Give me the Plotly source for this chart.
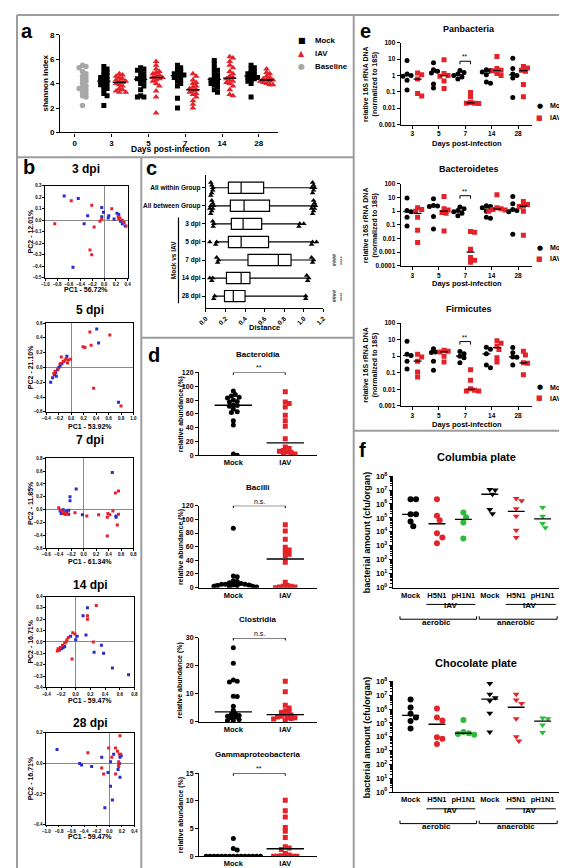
import numpy as np
import plotly.graph_objects as go

W, H = 567, 868
FONT = "Liberation Sans"
GLYPH = "DejaVu Sans"
RED = "#e32229"
GREEN = "#2dbb3a"
BLUE = "#2a2ad2"
GRAY = "#a8a8a8"
BORDER = "#9c9c9c"

# ===================== DATA =====================
# (a) Shannon index
a_days = ["0", "3", "5", "7", "14", "28"]
a_baseline = [5.5, 5.4, 5.3, 5.0, 4.8, 4.6, 4.5, 4.3, 4.2, 4.0, 3.8, 3.7, 3.6, 3.5, 3.3, 3.2, 3.0, 2.9, 2.2]
a_mock = [
    [5.4, 5.2, 5.0, 4.9, 4.7, 4.6, 4.5, 4.4, 4.3, 4.2, 4.1, 4.0, 3.9, 3.8, 3.6, 3.5, 3.2, 3.0, 2.2],
    [5.3, 5.2, 5.1, 5.0, 4.8, 4.6, 4.5, 4.4, 4.3, 4.2, 4.0, 3.8, 3.5, 3.0, 2.9, 2.9],
    [5.5, 5.3, 5.2, 5.0, 4.9, 4.8, 4.7, 4.7, 4.6, 4.5, 4.4, 4.2, 4.0, 3.8, 2.8, 2.0],
    [5.9, 5.6, 5.3, 5.1, 4.9, 4.7, 4.5, 4.4, 4.3, 4.2, 4.1, 4.0, 3.9, 3.7, 3.5, 3.3],
    [5.5, 5.3, 5.2, 5.0, 4.9, 4.8, 4.7, 4.6, 4.5, 4.5, 4.4, 4.3, 4.2, 4.0, 2.9],
]
a_iav = [
    [4.8, 4.7, 4.6, 4.5, 4.4, 4.3, 4.2, 4.2, 4.1, 4.0, 3.9, 3.8, 3.6, 3.5, 3.4, 3.3, 3.3],
    [5.8, 5.5, 5.2, 5.0, 4.9, 4.8, 4.7, 4.6, 4.5, 4.5, 4.4, 4.3, 4.2, 4.0, 3.8, 3.4, 2.9, 1.6],
    [4.8, 4.6, 4.3, 4.1, 4.0, 3.8, 3.7, 3.6, 3.5, 3.4, 3.3, 3.2, 3.1, 2.9, 2.6, 2.3, 2.0],
    [6.2, 6.1, 5.8, 5.5, 5.3, 5.0, 4.8, 4.6, 4.5, 4.4, 4.3, 4.2, 4.1, 4.0, 3.8, 3.5, 3.1, 3.0],
    [5.2, 4.9, 4.8, 4.6, 4.5, 4.4, 4.3, 4.3, 4.2, 4.2, 4.1, 4.0, 3.9, 3.9],
]
a_legend = ["Mock", "IAV", "Baseline"]

# (b) PCA (PC1, PC2) — blue = Mock, red = IAV
b_titles = ["3 dpi", "5 dpi", "7 dpi", "14 dpi", "28 dpi"]
b_pc1_label = ["PC1 - 56.72%", "PC1 - 53.92%", "PC1 - 61.34%", "PC1 - 59.47%", "PC1 - 59.47%"]
b_pc2_label = ["PC2 - 12.01%", "PC2 - 21.10%", "PC2 - 11.85%", "PC2 - 16.71%", "PC2 - 16.71%"]
b3_blue = [(-0.68, 0.21), (-0.44, 0.19), (-0.28, 0.04), (-0.34, -0.03), (-0.04, 0.11), (-0.01, 0.07), (-0.04, 0.03),
           (0.08, 0.04), (0.07, 0.02), (0.17, 0.01), (0.22, 0.06), (0.28, -0.01), (0.36, -0.05), (0.31, -0.03),
           (0.25, 0.05), (-0.53, -0.41)]
b3_red = [(-0.56, 0.17), (-0.84, -0.03), (-0.21, 0.13), (-0.17, -0.06), (-0.07, -0.01), (-0.04, 0.01), (0.13, 0.10),
          (0.25, 0.01), (0.27, 0.02), (0.31, 0.0), (0.34, -0.02), (0.38, -0.05), (-0.24, -0.26), (-0.21, -0.30),
          (0.24, 0.03)]
b5_blue = [(0.41, 0.52), (0.44, 0.33), (-0.07, 0.15), (0.76, -0.47), (-0.15, 0.05), (-0.20, 0.0), (-0.22, -0.03),
           (-0.25, -0.07), (-0.27, -0.10), (-0.30, -0.14), (-0.33, -0.20), (-0.18, 0.02), (-0.12, 0.08), (-0.24, -0.12)]
b5_red = [(0.30, 0.48), (0.62, 0.44), (0.32, 0.30), (0.19, 0.28), (0.22, 0.27), (-0.01, 0.11), (0.36, -0.28),
          (0.80, -0.52), (-0.10, 0.10), (-0.08, 0.12), (-0.05, 0.10), (-0.13, 0.08), (-0.18, 0.05), (-0.21, -0.02),
          (-0.26, -0.05), (-0.28, -0.08), (-0.16, 0.14), (-0.06, 0.06)]
b7_blue = [(0.46, 0.58), (-0.12, 0.32), (-0.22, 0.20), (-0.22, 0.14), (0.52, -0.10), (0.52, -0.12), (-0.02, -0.08),
           (-0.24, -0.01), (-0.24, -0.07), (-0.38, -0.02), (-0.35, -0.03), (-0.33, 0.0), (-0.31, -0.05),
           (-0.30, -0.07), (-0.28, -0.02), (-0.36, -0.06), (-0.27, -0.04)]
b7_red = [(0.51, 0.26), (0.56, 0.29), (0.47, -0.02), (0.39, -0.06), (0.42, -0.08), (0.38, -0.12), (0.56, -0.07),
          (0.54, -0.24), (0.38, -0.41), (0.24, -0.08), (0.05, -0.10), (-0.14, -0.05), (-0.40, 0.03), (-0.34, -0.03),
          (-0.32, -0.06), (-0.29, -0.05), (-0.37, -0.01), (-0.26, -0.07)]
b14_blue = [(0.16, 0.30), (0.10, 0.23), (0.02, 0.05), (-0.07, 0.05), (0.0, 0.02), (0.14, 0.06), (0.35, -0.03),
            (0.38, -0.10), (0.25, -0.09), (0.50, -0.23), (0.72, -0.29), (-0.20, -0.06), (-0.17, -0.05),
            (-0.22, -0.07), (-0.15, -0.04), (-0.19, -0.055)]
b14_red = [(0.28, 0.32), (0.16, 0.23), (0.16, 0.20), (-0.04, 0.08), (-0.01, 0.07), (0.24, 0.0), (-0.05, -0.15),
           (-0.12, 0.02), (-0.10, 0.04), (-0.25, -0.08), (-0.23, -0.07), (-0.21, -0.05), (-0.18, -0.03),
           (-0.15, -0.01), (-0.24, -0.06), (-0.13, 0.0)]
b28_blue = [(-0.83, 0.09), (-0.47, 0.0), (-0.44, -0.01), (-0.28, -0.02), (-0.12, 0.04), (0.07, 0.06), (0.19, 0.05),
            (0.17, 0.04), (0.16, 0.0), (0.14, -0.04), (0.17, -0.09), (-0.02, -0.06), (0.02, -0.15), (0.05, -0.24),
            (-0.07, -0.29), (0.02, 0.01)]
b28_red = [(-0.34, 0.07), (-0.12, -0.03), (-0.09, -0.07), (-0.01, 0.10), (0.04, 0.04), (0.10, 0.10), (0.13, 0.08),
           (0.17, 0.18), (0.16, 0.06), (0.18, 0.06), (0.15, 0.01), (0.15, -0.01), (0.15, -0.02), (0.10, -0.07)]

# (c) Distance box plots
c_rows = ["All within Group", "All between Group", "3 dpi", "5 dpi", "7 dpi", "14 dpi", "28 dpi"]
c_q1 = [0.23, 0.25, 0.26, 0.23, 0.43, 0.21, 0.19]
c_med = [0.36, 0.39, 0.38, 0.36, 0.74, 0.36, 0.28]
c_q3 = [0.59, 0.65, 0.57, 0.64, 0.87, 0.45, 0.40]
c_lo = [0.08, 0.08, 0.08, 0.12, 0.13, 0.07, 0.09]
c_hi = [1.06, 1.07, 0.96, 1.08, 1.09, 1.04, 1.02]
c_out = [
    [0.05, 0.05, 0.06, 0.06, 0.07, 0.07, 1.08, 1.09, 1.09, 1.10, 1.10, 1.11],
    [0.04, 0.05, 0.05, 0.06, 0.06, 0.07, 0.07, 0.08, 1.08, 1.09, 1.09, 1.10, 1.10, 1.11, 1.11, 1.12],
    [0.07, 0.075, 0.08, 0.95, 0.96, 1.0],
    [0.04, 0.10, 0.11, 1.08, 1.09, 1.13],
    [0.11, 0.12, 0.13, 1.08, 1.09, 1.10],
    [0.04, 0.06, 0.07, 1.03, 1.04, 1.05],
    [0.08, 0.09, 1.02, 1.02],
]
c_sig1 = ["", "", "", "", "####", "", "####"]
c_sig2 = ["", "", "", "", "****", "", "****"]

# (d) relative abundance (%)
d_titles = ["Bacteroidia", "Bacilli", "Clostridia", "Gammaproteobacteria"]
d_sig = ["**", "n.s.", "n.s.", "**"]
d_mock = [
    [93, 88, 86, 84, 83, 80, 78, 77, 73, 72, 71, 67, 63, 62, 50, 44, 2, 0],
    [87, 17, 16, 10, 9, 7, 6, 5, 5, 5, 4, 4, 3, 3, 2, 2, 1, 1],
    [26.5, 21, 15, 14.5, 14.3, 9.2, 9.1, 5.6, 4.2, 3.0, 2.7, 2.3, 2.0, 1.7, 1.4, 0.8, 0.5, 0.2],
    [3.2, 1.4, 1.1, 0, 0, 0, 0, 0, 0, 0, 0, 0, 0, 0, 0, 0, 0, 0],
]
d_iav = [
    [92, 77, 75, 70, 58, 50, 42, 24, 12, 10, 7, 6, 5, 4, 2, 1],
    [92, 83, 71, 59, 55, 53, 49, 47, 37, 8, 3, 2, 2, 1, 1, 0],
    [14.5, 10.8, 6, 5, 4, 3.6, 3.4, 2.7, 2.5, 2.0, 1.8, 1.6, 1.5, 1.2, 1.0, 0.5],
    [10.1, 8.2, 7.1, 5.2, 4.5, 3.4, 1.7, 1.5, 1.2, 0.5, 0.2, 0.1, 0, 0, 0, 0],
]
d_ymax = [120, 120, 30, 15]
d_dtick = [20, 20, 10, 5]

# (e) relative 16S rRNA DNA
e_days = ["3", "5", "7", "14", "28"]
e_titles = ["Panbacteria", "Bacteroidetes", "Firmicutes"]
e_pan_mock = [[8, 1.2, 1.0, 0.9, 0.5, 0.13], [6, 2.2, 1.8, 1.4, 0.3, 0.17], [2, 1.5, 1.2, 1.0, 0.8, 0.6],
              [2.2, 2.0, 1.6, 1.1, 0.4, 0.33], [11, 2.6, 1.2, 1.0, 0.7, 0.045]]
e_pan_iav = [[1.4, 1.1, 0.6, 0.08, 0.055], [9, 1.3, 1.0, 0.9, 0.45, 0.16], [0.09, 0.05, 0.022, 0.02, 0.02, 0.019],
             [14, 2.6, 2.1, 1.9, 1.3, 1.0], [3.5, 2.8, 2.1, 1.8, 0.28, 0.05]]
e_bac_mock = [[9, 1.1, 0.9, 0.35, 0.08], [8, 2.6, 2.4, 2.2, 0.4, 0.05], [2, 1.5, 1.1, 0.9, 0.7, 0.45],
              [2.5, 2.2, 1.8, 1.0, 0.35, 0.3], [12, 3.5, 1.3, 1.1, 0.9, 0.02]]
e_bac_iav = [[1.8, 1.3, 1.0, 0.35, 0.04, 0.005], [12, 1.5, 1.2, 0.8, 0.7, 0.035],
             [0.032, 0.028, 0.0016, 0.0004, 0.00025, 0.00018], [16, 1.8, 1.5, 1.3, 1.2, 1.0],
             [5, 3, 2.4, 2.2, 1.0, 0.017]]
e_fir_mock = [[8, 1.3, 1.1, 0.5, 0.17], [2.8, 1.8, 1.7, 0.5, 0.14], [1.9, 1.4, 1.0, 0.8, 0.4],
              [3.5, 2.6, 1.4, 0.3, 0.2], [3.3, 1.6, 0.9, 0.85, 0.3]]
e_fir_iav = [[1.3, 0.9, 0.5, 0.11, 0.055], [2.3, 2.0, 1.8, 1.0, 0.45], [0.15, 0.035, 0.011, 0.009, 0.008, 0.008],
             [8.5, 6, 4, 2.5, 0.8, 0.45], [2.0, 1.2, 0.4, 0.38, 0.075]]
e_sig_value = [7.3, 13.5, 7.6]
e_legend = ["Mock", "IAV"]

# (f) bacterial amount (cfu/organ)
f_groups = ["Mock", "H5N1", "pH1N1", "Mock", "H5N1", "pH1N1"]
f_columbia = [[2.2e6, 2.2e6, 1.8e5, 1.8e5, 5.6e4, 2.5e4], [2.2e6, 1.4e5, 6.8e4, 7.8e3, 4.0e3, 1.5e3],
              [2.4e5, 1.1e5, 4.7e4, 3.4e3], [1.1e7, 1.0e7, 5.0e6, 4.0e5, 2.0e5],
              [2.5e6, 1.7e6, 4.6e5, 1.3e5, 1.3e4, 4.0e3], [5.6e5, 1.3e5, 4.0e4, 2.0e4]]
f_chocolate = [[5e6, 1.3e6, 4.5e5, 2.5e5, 1.4e5, 4e4], [1.1e6, 2.5e5, 1.5e5, 9e3, 7e3, 3e3],
               [1.6e5, 2.2e4, 1.8e4, 1.6e4, 1.4e4], [7e7, 1.2e7, 6.5e6, 4e6, 5e5, 2.2e4],
               [1.2e7, 4.5e6, 2.5e6, 2e5, 1e4, 5e3], [2.3e5, 2.0e5, 7e4, 2e4]]

# ===================== HELPERS =====================
def X(px):
    return px / W


def Y(py):
    return 1 - py / H


def F(size, bold=True, color="black", family=FONT):
    return dict(family=family, size=size, color=color, weight="bold" if bold else "normal")


layout = dict(width=W, height=H, margin=dict(l=0, r=0, t=0, b=0), paper_bgcolor="white",
              plot_bgcolor="white", showlegend=False, hovermode=False)
annotations, shapes, traces = [], [], []
AX = dict(showline=True, linecolor="black", linewidth=1.2, ticks="outside", ticklen=3, tickwidth=1,
          tickcolor="black", showgrid=False, zeroline=False, fixedrange=True, tickfont=F(7))
n_axes = [0]


def add_axes(xpx, ypx, xkw=None, ykw=None):
    n_axes[0] += 1
    n = n_axes[0]
    s = "" if n == 1 else str(n)
    xa = dict(AX)
    xa.update(domain=[X(xpx[0]), X(xpx[1])], anchor="y" + s)
    ya = dict(AX)
    ya.update(domain=[Y(ypx[1]), Y(ypx[0])], anchor="x" + s)
    if xkw:
        xa.update(xkw)
    if ykw:
        ya.update(ykw)
    layout["xaxis" + s] = xa
    layout["yaxis" + s] = ya
    return "x" + s, "y" + s


def text(px, py, s, size, bold=True, angle=0, xanchor="center", yanchor="middle", color="black", family=FONT):
    annotations.append(dict(x=X(px), y=Y(py), xref="paper", yref="paper", text=s, showarrow=False,
                            textangle=angle, xanchor=xanchor, yanchor=yanchor,
                            font=F(size, bold, color, family)))


def swarm(vals, ppu_perp, ppu_val, diam, log=False):
    v = np.asarray(vals, float)
    v = np.log10(v) if log else v
    yp = v * ppu_val
    step = diam * 0.55
    cands = [0.0]
    for j in range(1, 80):
        cands += [j * step, -j * step]
    order = np.argsort(-yp, kind="stable")
    placed = []
    out = np.zeros(len(v))
    for i in order:
        for c in cands:
            if all((c - px) ** 2 + (yp[i] - py) ** 2 >= diam ** 2 for px, py in placed):
                break
        placed.append((c, yp[i]))
        out[i] = c / ppu_perp
    return out


def dots(xa, ya, center, vals, color, symbol, size, ppu_x, ppu_y, diam, log=False):
    offs = swarm(vals, ppu_x, ppu_y, diam, log)
    traces.append(go.Scatter(x=center + offs, y=list(vals), mode="markers", xaxis=xa, yaxis=ya,
                             marker=dict(color=color, symbol=symbol, size=size, line=dict(width=0)),
                             showlegend=False))


def median_line(xa, ya, center, vals, half, width=1.4):
    m = float(np.median(vals))
    traces.append(go.Scatter(x=[center - half, center + half], y=[m, m], mode="lines", xaxis=xa, yaxis=ya,
                             line=dict(color="black", width=width), showlegend=False))


def bracket(xa, ya, x0, x1, yv, ylow, label, size, log=False):
    traces.append(go.Scatter(x=[x0, x0, x1, x1], y=[ylow, yv, yv, ylow], mode="lines", xaxis=xa, yaxis=ya,
                             line=dict(color="black", width=1), showlegend=False))
    annotations.append(dict(x=(x0 + x1) / 2, y=np.log10(yv) if log else yv, xref=xa, yref=ya, text=label,
                            showarrow=False, yanchor="bottom", font=F(size, False), yshift=-1))


def legend_block(px, py_list, glyphs, colors, labels, size, gsize, gap):
    for py, g, c, lab in zip(py_list, glyphs, colors, labels):
        text(px, py, g, gsize, bold=False, color=c, family=GLYPH)
        text(px + gap, py, lab, size, xanchor="left")


# ===================== PANEL BORDERS =====================
for (x0, y0, x1, y1) in [(1, 1, 566, 1), (1, 866, 566, 866), (1, 1, 1, 866), (566, 1, 566, 866),
                         (345, 1, 345, 866), (1, 145, 345, 145), (128, 145, 128, 866),
                         (128, 328, 345, 328), (345, 422, 566, 422)]:
    shapes.append(dict(type="line", xref="paper", yref="paper", x0=X(x0), y0=Y(y0), x1=X(x1), y1=Y(y1),
                       line=dict(color=BORDER, width=2)))

for (lx, ly, lt) in [(11, 17, "a"), (13, 155, "b"), (138, 156, "c"), (141, 345, "d"), (357, 17, "e"),
                     (354, 442, "f")]:
    text(lx, ly, lt, 20)

# ===================== PANEL A =====================
xa, ya = add_axes((45, 268), (21, 120),
                  dict(range=[-0.4, 5.53], tickvals=list(range(6)), ticktext=a_days, tickfont=F(8)),
                  dict(range=[0, 8], tickvals=[0, 2, 4, 6, 8], tickfont=F(8)))
PPX_A, PPY_A = 37.6, 12.4
dots(xa, ya, 0.21, a_baseline, GRAY, "circle", 5.5, PPX_A, PPY_A, 3.2)
for i in range(5):
    dots(xa, ya, i + 1 - 0.21, a_mock[i], "black", "square", 5, PPX_A, PPY_A, 3.0)
    median_line(xa, ya, i + 1 - 0.21, a_mock[i], 0.18)
    dots(xa, ya, i + 1 + 0.21, a_iav[i], RED, "triangle-up", 6, PPX_A, PPY_A, 3.0)
    median_line(xa, ya, i + 1 + 0.21, a_iav[i], 0.18)
legend_block(292, [27, 40, 53], ["■", "▲", "●"], ["black", RED, GRAY], a_legend, 7.8, 8, 11)
text(30, 70, "shannon index", 8, angle=-90)
text(158, 137, "Days post-infection", 8.5)

# ===================== PANEL B =====================
b_sets = [(b3_blue, b3_red), (b5_blue, b5_red), (b7_blue, b7_red), (b14_blue, b14_red), (b28_blue, b28_red)]
b_xrange = [[-1.0, 0.4], [-0.4, 1.0], [-0.6, 0.8], [-0.4, 0.8], [-1.0, 0.4]]
b_yrange = [[-0.5, 0.3], [-0.6, 0.6], [-0.6, 0.8], [-0.4, 0.4], [-0.4, 0.2]]
b_ydtick = [0.1, 0.2, 0.2, 0.1, 0.2]
b_box_y = [(174, 267), (313, 403), (450, 541), (590, 682), (728, 821)]
b_box_x = [(30, 114), (31, 120), (31, 120), (31, 121), (31, 121)]
b_title_y = [157, 300, 431, 578, 718]
b_pc1_y = [279, 418, 555, 695, 833]
for k in range(5):
    xa, ya = add_axes(b_box_x[k], b_box_y[k],
                      dict(range=b_xrange[k], dtick=0.2, tick0=0, tickformat=".1f", mirror=True, linewidth=0.8,
                           ticklen=2, tickfont=F(4.5), zeroline=True, zerolinecolor="#8a8a8a",
                           zerolinewidth=1),
                      dict(range=b_yrange[k], dtick=b_ydtick[k], tick0=0, tickformat=".1f", mirror=True,
                           linewidth=0.8, ticklen=2, tickfont=F(4.5), zeroline=True, zerolinecolor="#8a8a8a",
                           zerolinewidth=1))
    blue, red = b_sets[k]
    for pts, col in [(blue, BLUE), (red, RED)]:
        traces.append(go.Scatter(x=[p[0] for p in pts], y=[p[1] for p in pts], mode="markers", xaxis=xa,
                                 yaxis=ya, marker=dict(color=col, symbol="square", size=3, line=dict(width=0)),
                                 showlegend=False))
    cx = (b_box_x[k][0] + b_box_x[k][1]) / 2
    text(cx, b_title_y[k], b_titles[k], 12)
    text(cx, b_pc1_y[k], b_pc1_label[k], 7)
    text(15, (b_box_y[k][0] + b_box_y[k][1]) / 2, b_pc2_label[k], 7, angle=-90)

# ===================== PANEL C =====================
xa, ya = add_axes((194, 314), (163, 298),
                  dict(range=[0, 1.2], dtick=0.2, tick0=0, tickformat=".1f", tickangle=-45, tickfont=F(6.5)),
                  dict(range=[6.67, -0.71], tickvals=list(range(7)), ticktext=c_rows, tickfont=F(6.5)))
traces.append(go.Box(y=list(range(7)), q1=c_q1, median=c_med, q3=c_q3, lowerfence=c_lo, upperfence=c_hi,
                     orientation="h", fillcolor="white", line=dict(color="black", width=1.2), whiskerwidth=0,
                     width=0.62, boxpoints=False, xaxis=xa, yaxis=ya, showlegend=False))
for r in range(7):
    offs = swarm(c_out[r], 18.3, 100, 2.4)
    traces.append(go.Scatter(x=c_out[r], y=r + offs, mode="markers", xaxis=xa, yaxis=ya,
                             marker=dict(color="black", symbol="triangle-up", size=5, line=dict(width=0)),
                             showlegend=False))
    for s, px in [(c_sig1[r], 325), (c_sig2[r], 333)]:
        if s:
            annotations.append(dict(x=X(px), y=r, xref="paper", yref=ya, text=s, showarrow=False,
                                    textangle=-90, font=F(5.5, False)))
shapes.append(dict(type="line", xref="paper", yref=ya, x0=X(166), x1=X(166), y0=1.65, y1=6.4,
                   line=dict(color="black", width=1.2)))
annotations.append(dict(x=X(155), y=4.0, xref="paper", yref=ya, text="Mock vs IAV", showarrow=False,
                        textangle=-90, font=F(6.5)))
text(254, 318, "Distance", 7.5)

# ===================== PANEL D =====================
d_box_y = [(363, 447), (498, 581), (632, 717), (769, 853)]
d_title_y = [345, 480, 613, 750]
for k in range(4):
    ppy = (d_box_y[k][1] - d_box_y[k][0]) / d_ymax[k]
    xa, ya = add_axes((187, 308), d_box_y[k],
                      dict(range=[-0.66, 1.62], tickvals=[0, 1], ticktext=["Mock", "IAV"], tickfont=F(7.5),
                           ticks=""),
                      dict(range=[0, d_ymax[k]], dtick=d_dtick[k], tick0=0, tickfont=F(7)))
    dots(xa, ya, 0, d_mock[k], "black", "circle", 5, 53, ppy, 3.6)
    median_line(xa, ya, 0, d_mock[k], 0.36)
    dots(xa, ya, 1, d_iav[k], RED, "square", 5, 53, ppy, 3.6)
    median_line(xa, ya, 1, d_iav[k], 0.36)
    bracket(xa, ya, 0, 1, d_ymax[k], d_ymax[k] - 2.5 / ppy, d_sig[k], 7)
    text(247, d_title_y[k], d_titles[k], 8)
    text(168, (d_box_y[k][0] + d_box_y[k][1]) / 2, "relative abundance (%)", 7, angle=-90)

# ===================== PANEL E =====================
e_sets = [(e_pan_mock, e_pan_iav), (e_bac_mock, e_bac_iav), (e_fir_mock, e_fir_iav)]
e_box_y = [(29, 112), (172, 255), (313, 397)]
e_ylog = [[-3, 2], [-4, 2], [-3, 2]]
e_title_y = [15, 157, 299]
e_xlab_y = [131, 273, 416]
e_leg_y = [(93, 105), (237, 248), (378, 389)]
e_ticktext = {-4: "0.0001", -3: "0.001", -2: "0.01", -1: "0.1", 0: "1", 1: "10", 2: "100"}
for k in range(3):
    lo, hi = e_ylog[k]
    ppy = (e_box_y[k][1] - e_box_y[k][0]) / (hi - lo)
    tv = [10.0 ** p for p in range(lo, hi + 1)]
    tt = [e_ticktext[p] for p in range(lo, hi + 1)]
    xa, ya = add_axes((393, 527), e_box_y[k],
                      dict(range=[-0.44, 4.52], tickvals=list(range(5)), ticktext=e_days, tickfont=F(6.5)),
                      dict(type="log", range=[lo, hi], tickvals=tv, ticktext=tt, tickfont=F(6.5)))
    mock, iav = e_sets[k]
    for i in range(5):
        dots(xa, ya, i - 0.2, mock[i], "black", "circle", 5, 27, ppy, 3.8, log=True)
        median_line(xa, ya, i - 0.2, mock[i], 0.15, 1.2)
        dots(xa, ya, i + 0.2, iav[i], RED, "square", 5, 27, ppy, 3.8, log=True)
        median_line(xa, ya, i + 0.2, iav[i], 0.15, 1.2)
    v = e_sig_value[k]
    bracket(xa, ya, 1.8, 2.2, v, v / 10 ** (3 / ppy), "**", 6.5, log=True)
    legend_block(535, list(e_leg_y[k]), ["●", "■"], ["black", RED], e_legend, 7, 7, 9)
    text(463, e_title_y[k], e_titles[k], 9)
    text(461, e_xlab_y[k], "Days post-infection", 7.5)
    text(362, (e_box_y[k][0] + e_box_y[k][1]) / 2, "relative 16S rRNA DNA<br>(normalized to 18S)", 7,
         angle=-90)

# ===================== PANEL F =====================
f_sets = [f_columbia, f_chocolate]
f_titles = ["Columbia plate", "Chocolate plate"]
f_box_y = [(468, 581), (676, 788)]
f_title_y = [449, 657]
f_colors = ["black", RED, GREEN, "black", RED, GREEN]
f_symbols = ["circle", "circle", "circle", "triangle-down", "triangle-down", "triangle-down"]
for k in range(2):
    ppy = (f_box_y[k][1] - f_box_y[k][0]) / 8
    xa, ya = add_axes((385, 555), f_box_y[k],
                      dict(range=[-0.67, 5.63], tickvals=list(range(6)), ticktext=f_groups, tickfont=F(7.5),
                           ticks=""),
                      dict(type="log", range=[0, 8], tickvals=[10.0 ** p for p in range(9)],
                           ticktext=["10<sup>%d</sup>" % p for p in range(9)], tickfont=F(7.5),
                           minor=dict(ticks="outside", ticklen=2, tickwidth=0.8, tickcolor="black", dtick="D1")))
    for g in range(6):
        dots(xa, ya, g, f_sets[k][g], f_colors[g], f_symbols[g], 6, 26.8, ppy, 5, log=True)
        median_line(xa, ya, g, f_sets[k][g], 0.32, 1.4)
    text(470, f_title_y[k], f_titles[k], 11)
    text(358, (f_box_y[k][0] + f_box_y[k][1]) / 2, "bacterial amount (cfu/organ)", 9, angle=-90)
    base = f_box_y[k][1]
    for (g0, g1, gc) in [(0.6, 2.45, 1.5), (3.6, 5.5, 4.5)]:
        shapes.append(dict(type="line", xref=xa, yref="paper", x0=g0, x1=g1, y0=Y(base + 17), y1=Y(base + 17),
                           line=dict(color="black", width=1)))
        annotations.append(dict(x=gc, y=Y(base + 25), xref=xa, yref="paper", text="IAV", showarrow=False,
                                font=F(8)))
    for (g0, g1, gc, lab) in [(-0.4, 2.5, 1.0, "aerobic"), (2.6, 5.55, 4.0, "anaerobic")]:
        yb = Y(base + 32)
        yt = Y(base + 29)
        shapes.append(dict(type="path", xref=xa, yref="paper",
                           path="M %f,%f L %f,%f L %f,%f L %f,%f" % (g0, yt, g0, yb, g1, yb, g1, yt),
                           line=dict(color="black", width=1)))
        annotations.append(dict(x=gc, y=Y(base + 42), xref=xa, yref="paper", text=lab, showarrow=False,
                                font=F(8)))

layout["annotations"] = annotations
layout["shapes"] = shapes
fig = go.Figure(data=traces, layout=layout)
fig.write_html("out.html")
